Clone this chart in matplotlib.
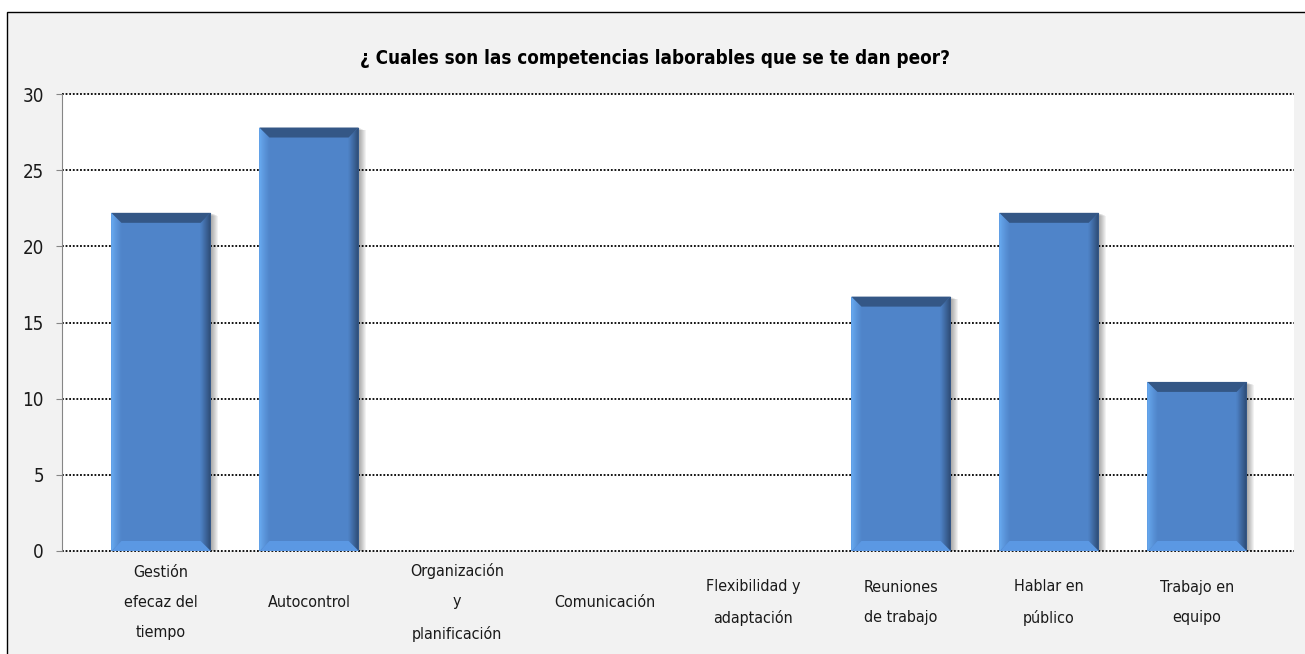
import numpy as np
import matplotlib.pyplot as plt
from matplotlib.patches import Polygon, Rectangle
from matplotlib.colors import to_rgb

# Datos
categorias = ["Gestión\nefecaz del\ntiempo", "Autocontrol", "Organización\ny\nplanificación",
              "Comunicación", "Flexibilidad y\nadaptación", "Reuniones\nde trabajo",
              "Hablar en\npúblico", "Trabajo en\nequipo"]
valores = [22.2, 27.8, 0, 0, 0, 16.7, 22.2, 11.1]
titulo = "¿ Cuales son las competencias laborables que se te dan peor?"
yticks = [0, 5, 10, 15, 20, 25, 30]

# DejaVu Sans en versión condensada (parecido a Calibri)
plt.rcParams['font.family'] = ['DejaVu Sans']
plt.rcParams['font.stretch'] = 'condensed'

W, H = 1305, 654
fig = plt.figure(figsize=(W / 100, H / 100), dpi=100)
fig.patch.set_facecolor('white')

# area del grafico (gris con borde)
fig.patches.append(Rectangle((7 / W, -0.05), 1.1, 1 - 12 / H + 0.05, transform=fig.transFigure,
                             facecolor='#F2F2F2', edgecolor='black', lw=1.0, zorder=-5))

ax = fig.add_axes([62 / W, 1 - 551 / H, (1294 - 62) / W, (551 - 94) / H])
ax.set_facecolor('white')

x = np.arange(len(categorias))
ancho = 0.67
xmin, xmax = -0.669, 7.655
ax.set_xlim(xmin, xmax)
ax.set_ylim(0, 30)

# tamaño de un pixel en unidades de datos
pbox = ax.get_position()
px = (xmax - xmin) / (pbox.width * W)
py = 30 / (pbox.height * H)
d = 10  # profundidad del bisel en pixeles


def mezcla(c1, c2, t):
    a, b = np.array(to_rgb(c1)), np.array(to_rgb(c2))
    return tuple(a + (b - a) * t)


cuerpo = '#4F84C9'
barras = ax.bar(x, valores, width=ancho, color=cuerpo, zorder=3, linewidth=0)

for b, v in zip(barras, valores):
    if v <= 0:
        continue
    x0, x1 = b.get_x(), b.get_x() + b.get_width()
    top, bot = v, 0
    dx, dy = d * px, d * py
    # sombra suave a la derecha
    for k in range(1, 8):
        ax.add_patch(Rectangle((x0 + k * px, bot), x1 - x0, top - k * py * 0.4,
                               facecolor='black', alpha=0.05, lw=0, zorder=2))
    # bisel lateral con degradado
    n = 10
    for j in range(n):
        t0, t1 = j / n, (j + 1) / n
        c = mezcla('#72B8FF', cuerpo, t0 ** 0.8)
        ax.add_patch(Polygon([(x0 + t0 * dx, bot + t0 * dy), (x0 + t0 * dx, top - t0 * dy),
                              (x0 + t1 * dx, top - t1 * dy), (x0 + t1 * dx, bot + t1 * dy)],
                             closed=True, facecolor=c, lw=0, zorder=4))
        c = mezcla('#243C5E', cuerpo, t0)
        ax.add_patch(Polygon([(x1 - t0 * dx, bot + t0 * dy), (x1 - t0 * dx, top - t0 * dy),
                              (x1 - t1 * dx, top - t1 * dy), (x1 - t1 * dx, bot + t1 * dy)],
                             closed=True, facecolor=c, lw=0, zorder=4))
    ax.add_patch(Polygon([(x0, top), (x1, top), (x1 - dx, top - dy), (x0 + dx, top - dy)],
                         closed=True, facecolor='#345786', lw=0, zorder=4))
    ax.add_patch(Polygon([(x0 + 0.5 * px, bot), (x1, bot), (x1 - dx, bot + dy), (x0 + dx, bot + dy)],
                         closed=True, facecolor='#5B98E3', lw=0, zorder=4))

ax.set_yticks(yticks)
ax.yaxis.grid(True, linestyle=(0, (1, 1)), color='black', lw=1.3, zorder=1)
for gl in ax.get_ygridlines():
    gl.set_clip_on(False)
ax.set_axisbelow(True)
for s in ['top', 'right', 'bottom']:
    ax.spines[s].set_visible(False)
ax.spines['left'].set_color('#868686')
ax.tick_params(axis='y', direction='out', length=4, color='#868686', pad=9,
               labelsize=13.5, labelcolor='#1a1a1a')
ax.set_xticks(x)
ax.set_xticklabels(categorias, fontsize=11.5, linespacing=2.25, color='#1a1a1a')
ax.tick_params(axis='x', length=0, pad=37)
for lab in ax.get_xticklabels():
    lab.set_verticalalignment('center')

fig.text(655 / W, 1 - 58 / H, titulo, ha='center', va='center', fontsize=13.5, fontweight='bold')

fig.savefig('out.png', dpi=100, facecolor=fig.get_facecolor())
